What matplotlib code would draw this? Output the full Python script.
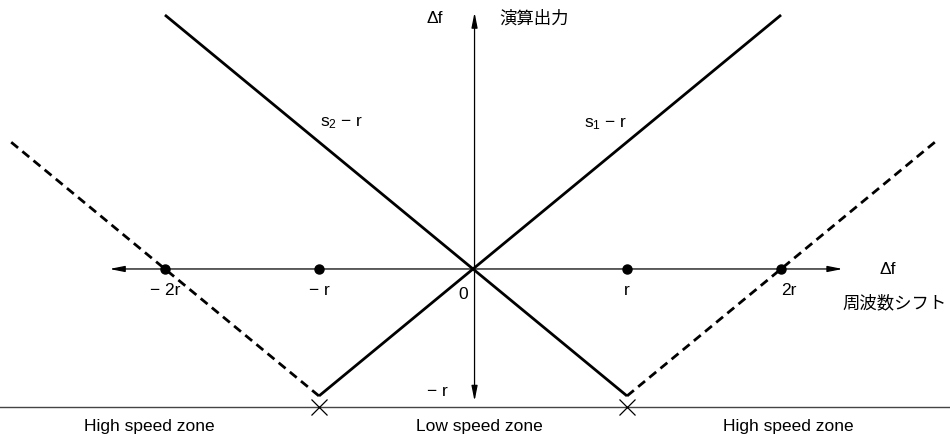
import matplotlib
matplotlib.use("Agg")
import matplotlib.pyplot as plt

plt.rcParams['font.family'] = ['Liberation Sans', 'DejaVu Sans']
plt.rcParams['mathtext.fontset'] = 'custom'
plt.rcParams['mathtext.rm'] = 'Liberation Sans'
JP = ['Noto Sans CJK JP', 'DejaVu Sans']

# data (in units of r)
s1_x = [-1, 2]; s1_y = [-1, 2]          # s1 - r
s2_x = [1, -2]; s2_y = [-1, 2]          # s2 - r
dl_x = [-1, -3]; dl_y = [-1, 1]         # dashed left
dr_x = [1, 3]; dr_y = [-1, 1]           # dashed right
dot_x = [-2, -1, 1, 2]
dot_labels = ['− 2r', '− r', 'r', '2r']
zone_x = [-2.1, 0.04, 2.05]
zone_labels = ['High speed zone', 'Low speed zone', 'High speed zone']
cross_x = [-1, 1]
base_y = -1.087

fig = plt.figure(figsize=(9.5, 4.39), dpi=100)
ax = fig.add_axes([0, 0, 1, 1])
ax.set_xlim(-3.071, 3.097)
ax.set_ylim(-1.331, 2.126)
ax.axis('off')

# axes with arrows
arr = dict(arrowstyle='<|-|>,head_length=0.9,head_width=0.18', color='black', lw=0.9, shrinkA=0, shrinkB=0)
ax.annotate('', xy=(2.40, 0), xytext=(-2.36, 0), arrowprops=arr)
ax.annotate('', xy=(0.01, 2.02), xytext=(0.01, -1.04), arrowprops=arr)

# base line
ax.plot([-3.2, 3.2], [base_y, base_y], color='#444444', lw=1.0)
ax.plot(cross_x, [base_y] * 2, 'x', color='black', ms=11, mew=0.9)

# lines
ax.plot(s1_x, s1_y, color='black', lw=2.0, solid_capstyle='butt')
ax.plot(s2_x, s2_y, color='black', lw=2.0, solid_capstyle='butt')
ax.plot(dl_x, dl_y, color='black', lw=2.0, ls=(0, (3.2, 2.0)))
ax.plot(dr_x, dr_y, color='black', lw=2.0, ls=(0, (3.2, 2.0)))

ax.plot(dot_x, [0] * len(dot_x), 'o', color='black', ms=6.5)

fs = 12.5
for x, lab in zip(dot_x, dot_labels):
    dx = 0.05 if x == 2 else 0.0
    ax.text(x + dx, -0.16, lab, ha='center', va='center', fontsize=fs)
ax.text(-0.065, -0.19, '0', ha='center', va='center', fontsize=fs)
ax.text(-0.23, -0.96, '− r', ha='center', va='center', fontsize=fs)

ax.text(-0.25, 1.98, 'Δf', ha='center', va='center', fontsize=fs)
ax.text(0.17, 1.98, '演算出力', ha='left', va='center', fontsize=fs, family=JP)
ax.text(2.69, 0.0, 'Δf', ha='center', va='center', fontsize=fs)
ax.text(2.74, -0.26, '周波数シフト', ha='center', va='center', fontsize=fs, family=JP)

ax.text(-0.855, 1.16, r'$\mathregular{s_2}$ − r', ha='center', va='center', fontsize=fs)
ax.text(0.86, 1.15, r'$\mathregular{s_1}$ − r', ha='center', va='center', fontsize=fs)

for x, lab in zip(zone_x, zone_labels):
    ax.text(x, -1.235, lab, ha='center', va='center', fontsize=fs)

fig.savefig('out.png', dpi=100)
